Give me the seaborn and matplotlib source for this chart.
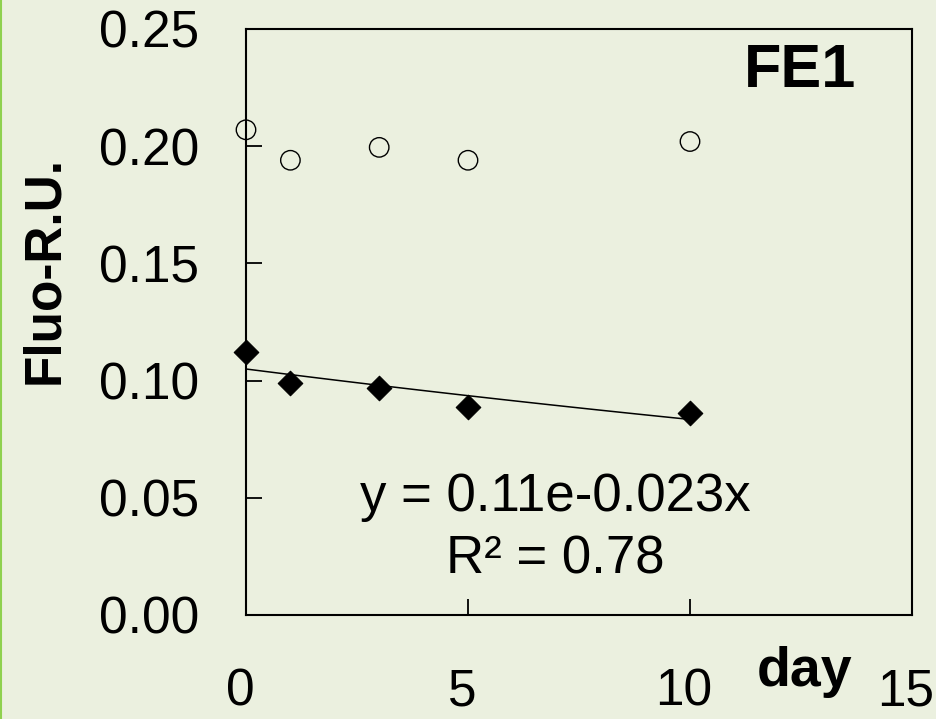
import numpy as np
import pandas as pd
import matplotlib
matplotlib.use("Agg")
import matplotlib.pyplot as plt
import matplotlib.transforms as mtransforms
import seaborn as sns
from matplotlib.lines import Line2D

# ---- data ----
days = [0, 1, 3, 5, 10]
open_series = [0.207, 0.194, 0.1995, 0.194, 0.202]
filled_series = [0.112, 0.099, 0.097, 0.0888, 0.0862]
x_ticks = [0, 5, 10, 15]
y_ticks = [0.00, 0.05, 0.10, 0.15, 0.20, 0.25]
y_tick_labels = ["0.00", "0.05", "0.10", "0.15", "0.20", "0.25"]
panel_label = "FE1"
eq_text = "y = 0.11e-0.023x"
r2_text = "R² = 0.78"

sns.set_theme(style="white")
plt.rcParams["font.family"] = ["Liberation Sans", "DejaVu Sans"]
plt.rcParams["text.color"] = "black"
BG = "#ebf0df"

fig = plt.figure(figsize=(9.37, 7.19), dpi=100, facecolor=BG)
ax = fig.add_axes([246/937, 1-615/719, 666/937, 586/719])
ax.set_facecolor(BG)

df = pd.DataFrame({"day": days, "open": open_series, "filled": filled_series})

# exponential trendline fitted to filled series
b, lna = np.polyfit(df["day"], np.log(df["filled"]), 1)
xf = np.linspace(min(days), max(days), 50)
trend = pd.DataFrame({"day": xf, "fit": np.exp(lna) * np.exp(b * xf)})
sns.lineplot(data=trend, x="day", y="fit", ax=ax, color="black", lw=1.1)

sns.scatterplot(data=df, x="day", y="open", ax=ax, marker="o", s=14**2,
                facecolor="none", edgecolor="black", linewidth=1.0, zorder=3,
                clip_on=False)
sns.scatterplot(data=df, x="day", y="filled", ax=ax, marker="D", s=12.5**2,
                color="black", edgecolor="black", linewidth=0.8, zorder=3,
                clip_on=False)

ax.set_xlim(0, 15)
ax.set_ylim(0, 0.25)
ax.set_xticks(x_ticks)
ax.set_yticks(y_ticks)
ax.set_yticklabels(y_tick_labels)
ax.set_xlabel("")
ax.set_ylabel("")

for s in ax.spines.values():
    s.set_visible(True)
    s.set_color("black")
    s.set_linewidth(1.5)

ax.tick_params(axis="y", direction="in", length=11.5, width=1.3, pad=34,
               labelsize=37, colors="black", labelcolor="black", left=True)
ax.tick_params(axis="x", direction="in", length=11.5, width=1.3, pad=38,
               labelsize=37, colors="black", labelcolor="black", bottom=True)

offset = mtransforms.ScaledTranslation(-6/100, 0, fig.dpi_scale_trans)
for lbl in ax.get_xticklabels():
    lbl.set_transform(lbl.get_transform() + offset)

ax.text(0.832, 0.927, panel_label, transform=ax.transAxes, ha="center", va="center",
        fontsize=44, fontweight="bold", color="black")
ax.text(0.464, 0.201, eq_text, transform=ax.transAxes, ha="center", va="center",
        fontsize=38, color="black")
ax.text(0.464, 0.094, r2_text, transform=ax.transAxes, ha="center", va="center",
        fontsize=38, color="black")
ax.text(0.839, -0.097, "day", transform=ax.transAxes, ha="center", va="center",
        fontsize=40, fontweight="bold", color="black")
ax.text(-0.302, 0.589, "Fluo-R.U.", transform=ax.transAxes, ha="center", va="center",
        rotation=90, fontsize=37, fontweight="bold", color="black")

# green frame edge at left
fig.add_artist(Line2D([1/937, 1/937], [0, 1], transform=fig.transFigure,
                      color="#8fd14f", lw=1.5))

fig.savefig("out.png", dpi=100, facecolor=BG)
